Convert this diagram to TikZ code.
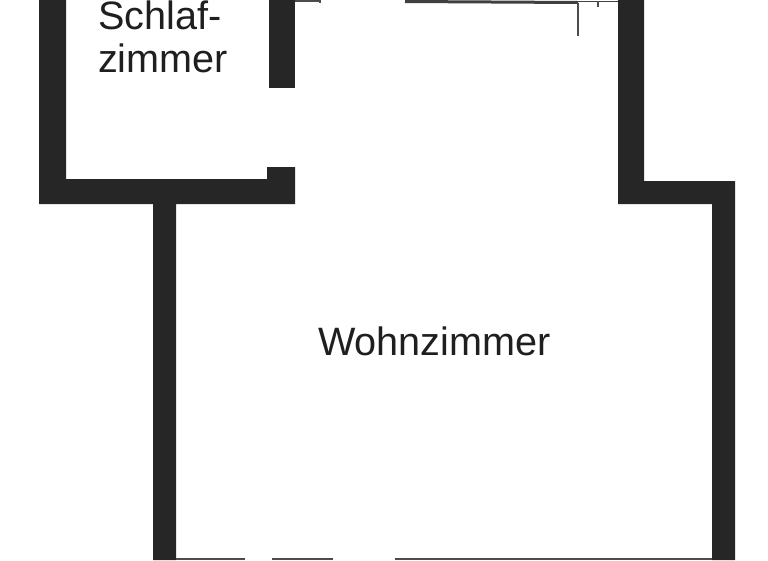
\documentclass[tikz,border=0pt]{standalone}
\usepackage{fontspec}
\setmainfont{Liberation Sans}
\definecolor{wallc}{HTML}{262626}
\tikzset{wall/.style={fill=wallc,draw=none},
 lbl/.style={inner sep=0pt,anchor=base,font=\fontsize{39.6pt}{39.6pt}\selectfont,text=black!88},
 thin/.style={draw=black!70,line width=1.2pt}}
\begin{document}
\begin{tikzpicture}[x=1pt,y=-1pt]
\useasboundingbox (0,0) rectangle (768,560);
\fill[white] (0,0) rectangle (768,560);
% left bedroom walls
\fill[wall] (39,0) -- (66,0) -- (66,179) -- (267,179) -- (267,167) -- (295,167) -- (295,204) -- (176,204) -- (176,560) -- (153,560) -- (153,204) -- (39,204) -- cycle;
% bedroom right stub
\fill[wall] (269,0) rectangle (295,88);
% right wall
\fill[wall] (618,0) -- (644,0) -- (644,181) -- (735,181) -- (735,560) -- (712,560) -- (712,204) -- (618,204) -- cycle;
% top details
\draw[thin] (295,1) -- (320,1) (320,0) -- (320,3);
\draw[draw=black!75,line width=3pt] (405,1.5) -- (578,2.5);
\draw[draw=black!75,line width=1.6pt] (578,1.5) -- (618,1.5);
\draw[thin] (578,3) -- (578,36);
\draw[thin] (598,1) -- (598,7);
% bottom details
\draw[thin] (176,559) -- (245,559);
\draw[thin] (272,559) -- (333,559);
\draw[thin] (395,559) -- (712,559);
\node[lbl] (s1) at (160,29.5) {Schlaf-};
\node[lbl] (s2) at (163,72) {zimmer};
\node[lbl] (w) at (434.5,355) {Wohnzimmer};
\end{tikzpicture}
\end{document}
